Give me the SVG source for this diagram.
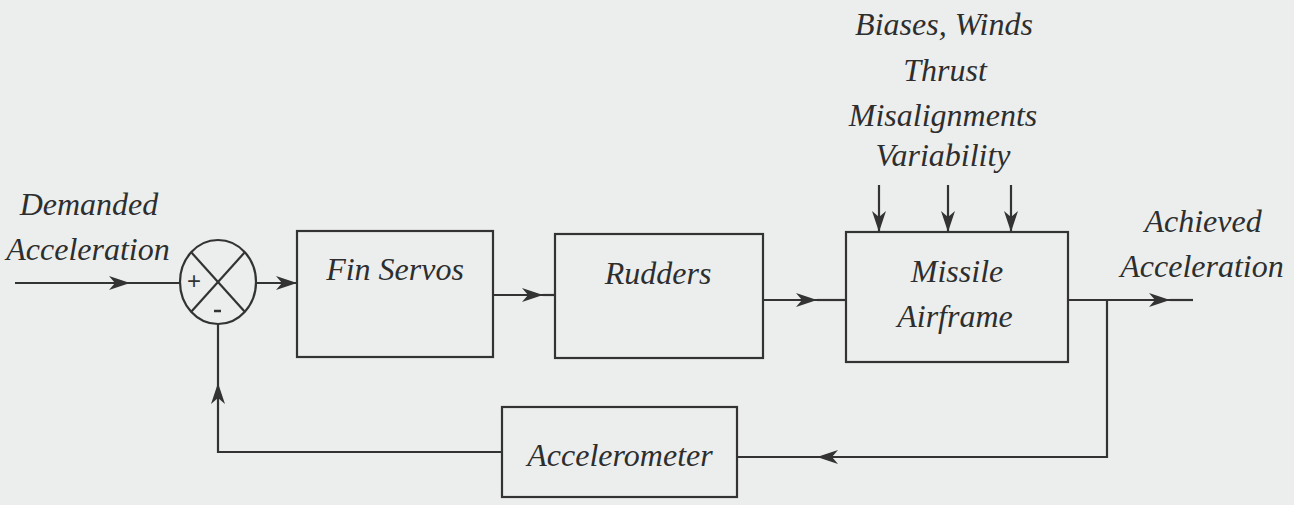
<svg xmlns="http://www.w3.org/2000/svg" width="1294" height="505" viewBox="0 0 1294 505">
<style>
.bg{fill:#eceeee}
.box{fill:none;stroke:#333;stroke-width:2.2}
.ln{fill:none;stroke:#333;stroke-width:2.2}
.t{font-family:"Liberation Serif","Times New Roman",serif;font-style:italic;font-size:32px;fill:#2e2e2e;text-anchor:middle}
.sym{font-family:"Liberation Sans",Arial,sans-serif;font-size:24px;fill:#333;text-anchor:middle}
.ah{fill:#333}
</style>
<defs>
<marker id="arr" viewBox="-22 -8 24 16" refX="0" refY="0" markerWidth="24" markerHeight="16" markerUnits="userSpaceOnUse" orient="auto">
<path class="ah" d="M0,0 L-21,-7 L-15,0 L-21,7 Z"/>
</marker>
</defs>
<rect class="bg" x="0" y="0" width="1294" height="505"/>

<g id="inputs">
<text class="t" x="89" y="215">Demanded</text>
<text class="t" x="88" y="260">Acceleration</text>
</g>

<g id="sum">
<ellipse class="box" cx="218" cy="282" rx="38" ry="42"/>
<line class="ln" x1="191" y1="252" x2="245" y2="312"/>
<line class="ln" x1="245" y1="252" x2="191" y2="312"/>
<text class="sym" x="194" y="289">+</text>
<line class="ln" x1="214" y1="311" x2="221" y2="311" style="stroke-width:2.5"/>
</g>

<g id="fin-servos">
<rect class="box" x="297" y="231" width="196" height="126"/>
<text class="t" x="395" y="280">Fin Servos</text>
</g>

<g id="rudders">
<rect class="box" x="555" y="234" width="208" height="124"/>
<text class="t" x="658" y="284">Rudders</text>
</g>

<g id="missile-airframe">
<rect class="box" x="846" y="232" width="222" height="130"/>
<text class="t" x="957" y="282">Missile</text>
<text class="t" x="955" y="327">Airframe</text>
</g>

<g id="accelerometer">
<rect class="box" x="502" y="407" width="235" height="90"/>
<text class="t" x="620" y="466">Accelerometer</text>
</g>

<g id="disturbances">
<text class="t" x="944" y="35">Biases, Winds</text>
<text class="t" x="945" y="81">Thrust</text>
<text class="t" x="943" y="126">Misalignments</text>
<text class="t" x="943" y="166">Variability</text>
</g>

<g id="output">
<text class="t" x="1203" y="232">Achieved</text>
<text class="t" x="1202" y="277">Acceleration</text>
</g>

<g id="connectors">
<path class="ln" d="M15,283 L130,283" marker-end="url(#arr)"/>
<path class="ln" d="M130,283 L180,283"/>
<path class="ln" d="M256,283 L297,283" marker-end="url(#arr)"/>
<path class="ln" d="M493,295 L543,295" marker-end="url(#arr)"/>
<path class="ln" d="M543,295 L555,295"/>
<path class="ln" d="M763,300 L817,300" marker-end="url(#arr)"/>
<path class="ln" d="M817,300 L846,300"/>
<path class="ln" d="M1068,300 L1170,300" marker-end="url(#arr)"/>
<path class="ln" d="M1170,300 L1193,300"/>
<path class="ln" d="M1107,300 L1107,457 L817,457" marker-end="url(#arr)"/>
<path class="ln" d="M817,457 L737,457"/>
<path class="ln" d="M502,452 L218,452 L218,383" marker-end="url(#arr)"/>
<path class="ln" d="M218,383 L218,324"/>
<path class="ln" d="M879,185 L879,232" marker-end="url(#arr)"/>
<path class="ln" d="M948,185 L948,232" marker-end="url(#arr)"/>
<path class="ln" d="M1011,185 L1011,232" marker-end="url(#arr)"/>
</g>
</svg>
